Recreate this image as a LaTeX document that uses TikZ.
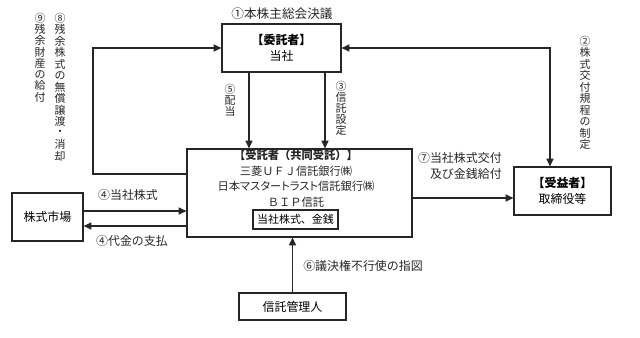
\documentclass[tikz,border=0pt]{standalone}
\usepackage{fontspec}
\setmainfont{Noto Sans CJK JP}
\newfontfamily\propjp[RawFeature=+palt]{Noto Sans CJK JP}
\usetikzlibrary{arrows.meta,positioning}

\begin{document}
\begin{tikzpicture}[x=0.025cm,y=-0.025cm,
    nd/.style={draw=black!85,line width=0.8pt,align=center,inner sep=0pt,font=\fontsize{8.5}{11.5}\selectfont},
    lbl/.style={inner sep=0pt,font=\fontsize{8.5}{11}\selectfont,text=black!85},
    vch/.style={inner sep=0pt,font=\fontsize{7.8}{8}\selectfont,text=black!85},
    arr/.style={draw=black!85,line width=0.8pt,-{Triangle[length=5.5pt,width=5pt]}}
  ]
  \useasboundingbox (0,0) rectangle (640,337);

  \node[nd,minimum width=2.975cm,minimum height=1.2cm] (itaku) at (281.5,48) {\textbf{【委託者】}\\当社};
  \node[lbl,font=\fontsize{9}{11}\selectfont] (ketsugi) at (282,14) {①本株主総会決議};
  \node[nd,minimum width=5.625cm,minimum height=2.2cm] (jutaku) at (299.5,193) {};
  \node[lbl,align=center,font=\fontsize{8}{11}\selectfont] (jutakutxt) at (296,178.5) {\textbf{【受託者（共同受託）】}\\三菱ＵＦＪ信託銀行㈱\\{\propjp 日本マスタートラスト信託銀行㈱}\\ＢＩＰ信託};
  \node[nd,minimum width=2.125cm,minimum height=0.475cm,font=\fontsize{7.8}{10}\selectfont] (zaisan) at (295.5,219.5) {当社株式、金銭};
  \node[nd,minimum width=2.425cm,minimum height=1.2cm] (jueki) at (562.5,191) {\textbf{【受益者】}\\取締役等};
  \node[nd,minimum width=1.775cm,minimum height=1.2cm] (shijo) at (47.5,217) {株式市場};
  \node[nd,minimum width=2.675cm,minimum height=0.675cm] (kanri) at (292.5,306.5) {信託管理人};

  \coordinate (loopL) at (93,174);
  \coordinate (loopR) at (550,48);
  \draw[arr] (jutaku.west |- loopL) -- (loopL) |- (itaku.west);
  \draw[arr,{Triangle[length=5.5pt,width=5pt]}-{Triangle[length=5.5pt,width=5pt]}] (itaku.east) -- (loopR) -- (loopR |- jueki.north);
  \draw[arr] (itaku.south -| 249,0) -- (jutaku.north -| 249,0);
  \draw[arr] (itaku.south -| 325,0) -- (jutaku.north -| 325,0);
  \draw[arr] (shijo.east |- 0,211) -- (jutaku.west |- 0,211);
  \draw[arr] (jutaku.west |- 0,226) -- (shijo.east |- 0,226);
  \draw[arr] (jutaku.east |- 0,198) -- (jueki.west |- 0,198);
  \draw[arr] (kanri) -- (jutaku.south -| kanri);

  % vertical labels, one character per node
  \foreach \ch [count=\i from 0] in {⑤,配,当}
    \node[vch] (haito\i) at (230,89+11.4*\i) {\ch};
  \foreach \ch [count=\i from 0] in {③,信,託,設,定}
    \node[vch] (settei\i) at (341,86+11.2*\i) {\ch};
  \foreach \ch [count=\i from 0] in {②,株,式,交,付,規,程,の,制,定}
    \node[vch] (kitei\i) at (585,41+11.5*\i) {\ch};
  \foreach \ch [count=\i from 0] in {⑧,残,余,株,式,の,無,償,譲,渡,・,消,却}
    \node[vch] (muso\i) at (60,18+11.5*\i) {\ch};
  \foreach \ch [count=\i from 0] in {⑨,残,余,財,産,の,給,付}
    \node[vch] (zanyo\i) at (40,18+11.3*\i) {\ch};

  \node[lbl,align=right,anchor=east] (kofu) at (502,166) {⑦当社株式交付\\及び金銭給付};
  \node[lbl] (kabu) at (128,195) {④当社株式};
  \node[lbl] (daikin) at (132,241) {④代金の支払};
  \node[lbl,anchor=west] (sashizu) at (303,266) {⑥議決権不行使の指図};
\end{tikzpicture}
\end{document}
